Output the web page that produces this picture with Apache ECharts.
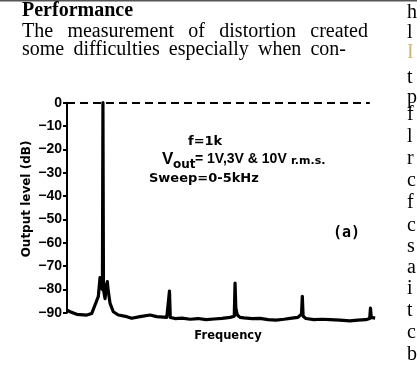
<!DOCTYPE html>
<html>
<head>
<meta charset="utf-8">
<script src="https://cdn.jsdelivr.net/npm/echarts@6/dist/echarts.min.js"></script>
<style>
html,body{margin:0;padding:0;background:#fff;}
#chart{width:417px;height:367px;}
</style>
</head>
<body>
<div id="chart"></div>
<script>
// Frequency (kHz) and output level (dB)
const frequencies = [0.461,0.506,0.606,0.757,0.832,0.881,0.931,0.956,0.971,0.992,1.0,1.008,1.032,1.054,1.066,1.077,1.107,1.156,1.231,1.358,1.433,1.557,1.708,1.808,1.959,1.988,2.0,2.012,2.083,2.189,2.309,2.429,2.549,2.670,2.790,2.910,2.973,2.985,2.997,3.02,3.06,3.12,3.24,3.36,3.48,3.60,3.72,3.84,3.93,3.984,3.996,4.008,4.05,4.17,4.29,4.41,4.56,4.71,4.83,4.95,5.008,5.02,5.032,5.09];
const levels      = [-88.9,-89.6,-90.7,-91.0,-90.3,-86.7,-83.0,-75.0,-79.0,-80.0,0,-80.0,-84.0,-78.0,-76.7,-80.0,-86.0,-89.6,-91.0,-91.7,-92.4,-91.7,-91.0,-91.7,-92.0,-92.0,-80.7,-92.0,-92.5,-92.3,-92.8,-92.5,-93.0,-92.7,-92.4,-92.0,-91.5,-77.3,-88.0,-91.0,-92.0,-92.2,-92.5,-92.4,-93.0,-93.2,-92.8,-92.3,-92.0,-90.5,-83.0,-91.5,-92.5,-93.0,-92.8,-93.0,-93.2,-93.5,-93.2,-93.0,-92.5,-88.0,-92.0,-92.3];
const yTicks = [0,-10,-20,-30,-40,-50,-60,-70,-80,-90];
const headerLines = ["The measurement of distortion created", "some difficulties especially when con-"];
const rightColumn = ["h","l","I","t","p","f","l","r","c","f","c","s","a","i","t","c","b"];

const chart = echarts.init(document.getElementById('chart'), null, {renderer:'canvas'});
const sans = 'Liberation Sans';
const bodyFont = '20px "Liberation Serif"';
const graphics = [];
const mctx = document.createElement('canvas').getContext('2d');
mctx.font = bodyFont;
function justify(line, x0, x1, y){
  const words = line.split(' ');
  const widths = words.map(w=>mctx.measureText(w).width);
  const total = widths.reduce((a,b)=>a+b,0);
  const gap = (x1-x0-total)/(words.length-1);
  let x = x0;
  words.forEach((w,i)=>{
    graphics.push({type:'text', x:x, y:y, style:{text:w, font:bodyFont, fill:'#000', verticalAlign:'middle'}});
    x += widths[i]+gap;
  });
}
graphics.push({type:'rect', shape:{x:0,y:0,width:417,height:1.5}, style:{fill:'#555'}});
graphics.push({type:'text', x:22, y:11, style:{text:'Performance', font:'bold 20px "Liberation Serif"', fill:'#000', verticalAlign:'middle'}});
justify(headerLines[0], 22, 368, 32);
justify(headerLines[1], 22, 346, 50);
const rightY = [13,33,53,78,98,115,137,159,181,203,226,247,268,289,311,333,355];
rightColumn.forEach((c,i)=>graphics.push({type:'text', x:407, y:rightY[i], style:{text:c, font:bodyFont, fill: i===2 ? '#cdb878' : '#000', verticalAlign:'middle'}}));
graphics.push({type:'text', x:27, y:199, rotation:Math.PI/2, style:{text:'Output level (dB)', font:'bold 12px "DejaVu Sans"', fill:'#000', align:'center', verticalAlign:'middle'}});
graphics.push({type:'text', x:228, y:336, style:{text:'Frequency', font:'bold 11.5px "DejaVu Sans"', fill:'#000', align:'center', verticalAlign:'middle'}});
graphics.push({type:'text', x:188, y:142, style:{text:'f=1k', font:'bold 13px "DejaVu Sans"', fill:'#000', verticalAlign:'middle'}});
graphics.push({type:'text', x:162, y:159, style:{text:'V', font:'bold 17px "Liberation Sans"', fill:'#000', verticalAlign:'middle'}});
graphics.push({type:'text', x:173, y:165, style:{text:'out', font:'bold 12px "DejaVu Sans"', fill:'#000', verticalAlign:'middle'}});
graphics.push({type:'text', x:195, y:159, style:{text:'= 1V,3V & 10V', font:'bold 14px "Liberation Sans"', fill:'#000', verticalAlign:'middle'}});
graphics.push({type:'text', x:291, y:161, style:{text:'r.m.s.', font:'bold 11px "DejaVu Sans"', fill:'#000', verticalAlign:'middle'}});
graphics.push({type:'text', x:149, y:179, style:{text:'Sweep=0-5kHz', font:'bold 13px "DejaVu Sans"', fill:'#000', verticalAlign:'middle'}});
graphics.push({type:'text', x:333, y:233, style:{text:'(a)', font:'bold 15px "DejaVu Sans Mono"', fill:'#000', verticalAlign:'middle'}});

chart.setOption({
  animation:false,
  backgroundColor:'#fff',
  grid:{left:67, right:41.2, top:102.7, bottom:54.3, containLabel:false},
  xAxis:{type:'value', min:0.46, max:5.1, axisLine:{show:false}, axisTick:{show:false}, axisLabel:{show:false}, splitLine:{show:false}},
  yAxis:{type:'value', min:-90, max:0, interval:10,
    axisLine:{show:true, lineStyle:{color:'#000', width:2}},
    axisTick:{show:true, length:4, lineStyle:{color:'#000', width:2}},
    axisLabel:{show:true, margin:5, color:'#000', fontFamily:sans, fontWeight:'bold', fontSize:14,
      formatter:v=>String(v).replace('-','\u2212')},
    splitLine:{show:false}},
  graphic:graphics,
  series:[{
    type:'line',
    data:frequencies.map((f,i)=>[f,levels[i]]),
    showSymbol:false, clip:false,
    lineStyle:{color:'#000', width:3.2, join:'round'},
    markLine:{silent:true, symbol:'none', label:{show:false},
      lineStyle:{color:'#000', width:2, type:[8,5]},
      data:[[{coord:[0.46,0]},{coord:[5.01,0]}]]}
  }]
});
</script>
</body>
</html>
